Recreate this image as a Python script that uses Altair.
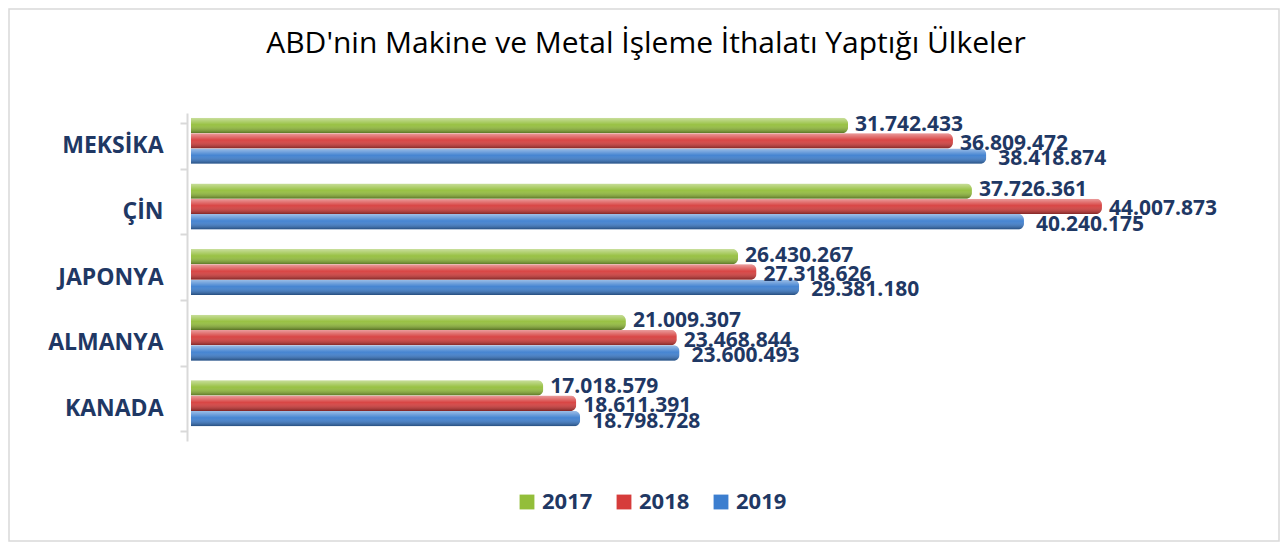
import altair as alt
import pandas as pd

countries = ["MEKSİKA", "ÇİN", "JAPONYA", "ALMANYA", "KANADA"]
years = ["2017", "2018", "2019"]
v2017 = [31742433, 37726361, 26430267, 21009307, 17018579]
v2018 = [36809472, 44007873, 27318626, 23468844, 18611391]
v2019 = [38418874, 40240175, 29381180, 23600493, 18798728]
colors = ["#93BE3A", "#D63C3B", "#3C7ECF"]
title_text = "ABD'nin Makine ve Metal İşleme İthalatı Yaptığı Ülkeler"

rows = []
for yr, vals in zip(years, [v2017, v2018, v2019]):
    for c, v in zip(countries, vals):
        rows.append({"ulke": c, "yil": yr, "deger": v,
                     "etiket": f"{v:,}".replace(",", ".")})
df = pd.DataFrame(rows)

W, H = 1035, 328
PL, PT, PR, PB = 183, 105, 54, 101
NAVY = "#1F3864"

y_enc = alt.Y("ulke:N", sort=countries, title=None,
              scale=alt.Scale(paddingInner=0.3, paddingOuter=0.15),
              axis=alt.Axis(labelFont="Open Sans", labelFontSize=23, labelFontWeight="bold",
                            labelColor=NAVY, labelPadding=17, tickSize=7, tickColor="#D9D9D9",
                            domainColor="#D9D9D9", domainWidth=2, tickWidth=2, offset=4,
                            tickBand="extent"))
yoff = alt.YOffset("yil:N", scale=alt.Scale(domain=years, range=[-5, 41],
                                            paddingInner=0, paddingOuter=0))
x_enc = alt.X("deger:Q", scale=alt.Scale(domain=[0, 50000000], nice=False), axis=None)

base = alt.Chart(df)

bars = base.mark_bar(cornerRadiusEnd=6).encode(
    x=x_enc, y=y_enc, yOffset=yoff,
    color=alt.Color("yil:N", scale=alt.Scale(domain=years, range=colors),
                    legend=alt.Legend(title=None, orient="none", direction="horizontal",
                                      legendX=325, legendY=378, symbolType="square",
                                      symbolSize=220, symbolStrokeWidth=0,
                                      labelFont="Open Sans", labelFontSize=22,
                                      labelFontWeight="bold", labelColor=NAVY,
                                      columnPadding=20, labelOffset=4)),
)

shade = base.mark_bar(cornerRadiusEnd=6,
                      fill=alt.Gradient(gradient="linear", x1=0, y1=0, x2=0, y2=1,
                                        stops=[alt.GradientStop(offset=0, color="rgba(255,255,255,0.5)"),
                                               alt.GradientStop(offset=0.45, color="rgba(255,255,255,0.05)"),
                                               alt.GradientStop(offset=1, color="rgba(0,0,0,0.4)")])).encode(
    x=x_enc, y=y_enc, yOffset=yoff)

label_offsets = {"2017": (7, -1), "2018": (7, 3), "2019": (12, 3)}
texts = []
for yr in years:
    dx, dy = label_offsets[yr]
    texts.append(base.transform_filter(alt.datum.yil == yr).mark_text(
        align="left", baseline="middle", dx=dx, dy=dy, font="Open Sans",
        fontSize=21, fontWeight="bold", color=NAVY).encode(
        x=x_enc, y=y_enc, yOffset=yoff, text="etiket:N"))

border = alt.Chart(pd.DataFrame({"k": [0]})).mark_rect(
    fill="transparent", stroke="#D9D9D9", strokeWidth=1.5).encode(
    x=alt.value(-PL + 1), x2=alt.value(W + PR - 1),
    y=alt.value(-PT + 1), y2=alt.value(H + PB - 1))

title = alt.Chart(pd.DataFrame({"t": [title_text]})).mark_text(
    font="Open Sans", fontSize=30, color="black", align="center", baseline="alphabetic").encode(
    x=alt.value(646 - 191), y=alt.value(53 - 113), text="t:N")

chart = alt.layer(border, title, bars, shade, *texts).properties(
    width=W, height=H,
    autosize=alt.AutoSizeParams(type="none"),
    padding={"left": PL, "top": PT, "right": PR, "bottom": PB},
).configure_view(stroke=None)

chart.save("out.html", embed_options={"renderer": "svg", "actions": False})
